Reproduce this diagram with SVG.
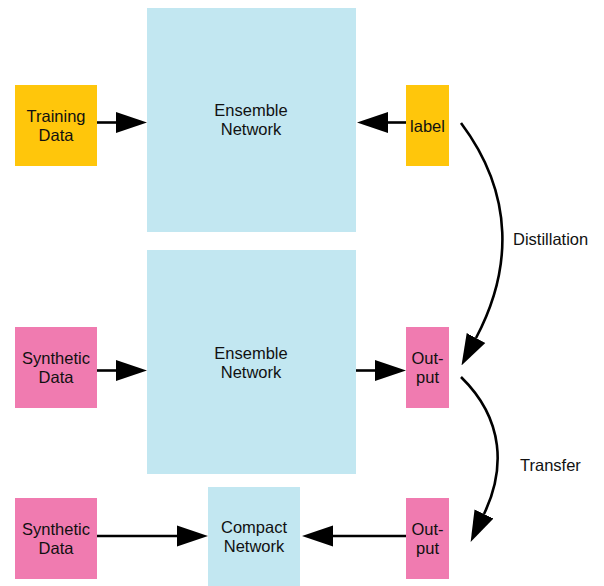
<svg xmlns="http://www.w3.org/2000/svg" width="604" height="586" viewBox="0 0 604 586">
<style>
text{font-family:"Liberation Sans",Arial,sans-serif;font-size:16.5px;fill:#111;text-anchor:middle}
.y{fill:#FFC60B}.p{fill:#F07BB0}.b{fill:#C2E7F1}
.c{fill:none;stroke:#000;stroke-width:2.6}
.lbl{text-anchor:start}
</style>
<defs>
<marker id="ah" markerUnits="userSpaceOnUse" markerWidth="31" markerHeight="22" viewBox="0 -11 31 22" refX="0" refY="0" orient="auto">
<path d="M0,-10.5 L31,0 L0,10.5 z" fill="#000"/>
</marker>
</defs>
<rect width="604" height="586" fill="#fff"/>
<g id="ensemble1"><rect class="b" x="147" y="8" width="209" height="224"/><text x="251" y="116">Ensemble</text><text x="251" y="135">Network</text></g>
<g id="ensemble2"><rect class="b" x="147" y="250" width="209" height="224"/><text x="251" y="359">Ensemble</text><text x="251" y="378">Network</text></g>
<g id="compact"><rect class="b" x="208" y="487" width="92" height="99"/><text x="254" y="533">Compact</text><text x="254" y="552">Network</text></g>
<g id="training"><rect class="y" x="15" y="85" width="82" height="81"/><text x="56" y="122">Training</text><text x="56" y="141">Data</text></g>
<g id="label"><rect class="y" x="406" y="85" width="43" height="81"/><text x="427.5" y="132">label</text></g>
<g id="synthetic1"><rect class="p" x="15" y="327" width="82" height="81"/><text x="56" y="364">Synthetic</text><text x="56" y="383">Data</text></g>
<g id="output1"><rect class="p" x="406" y="327" width="43" height="81"/><text x="427.5" y="364">Out-</text><text x="427.5" y="383">put</text></g>
<g id="synthetic2"><rect class="p" x="15" y="498" width="82" height="81"/><text x="56" y="535">Synthetic</text><text x="56" y="554">Data</text></g>
<g id="output2"><rect class="p" x="406" y="498" width="43" height="81"/><text x="427.5" y="535">Out-</text><text x="427.5" y="554">put</text></g>
<g id="connectors">
<path class="c" d="M97,122.5 H116" marker-end="url(#ah)"/>
<path class="c" d="M406,122.5 H388" marker-end="url(#ah)"/>
<path class="c" d="M97,370.5 H116" marker-end="url(#ah)"/>
<path class="c" d="M356,370.5 H375" marker-end="url(#ah)"/>
<path class="c" d="M97,536 H177" marker-end="url(#ah)"/>
<path class="c" d="M406,536 H333" marker-end="url(#ah)"/>
<path class="c" d="M461,123 C515,195 512,270 476,338" marker-end="url(#ah)"/>
<path class="c" d="M461,377 C505,420 505,470 484,514" marker-end="url(#ah)"/>
<text class="lbl" x="513" y="245">Distillation</text>
<text class="lbl" x="520" y="470.5">Transfer</text>
</g>
</svg>
